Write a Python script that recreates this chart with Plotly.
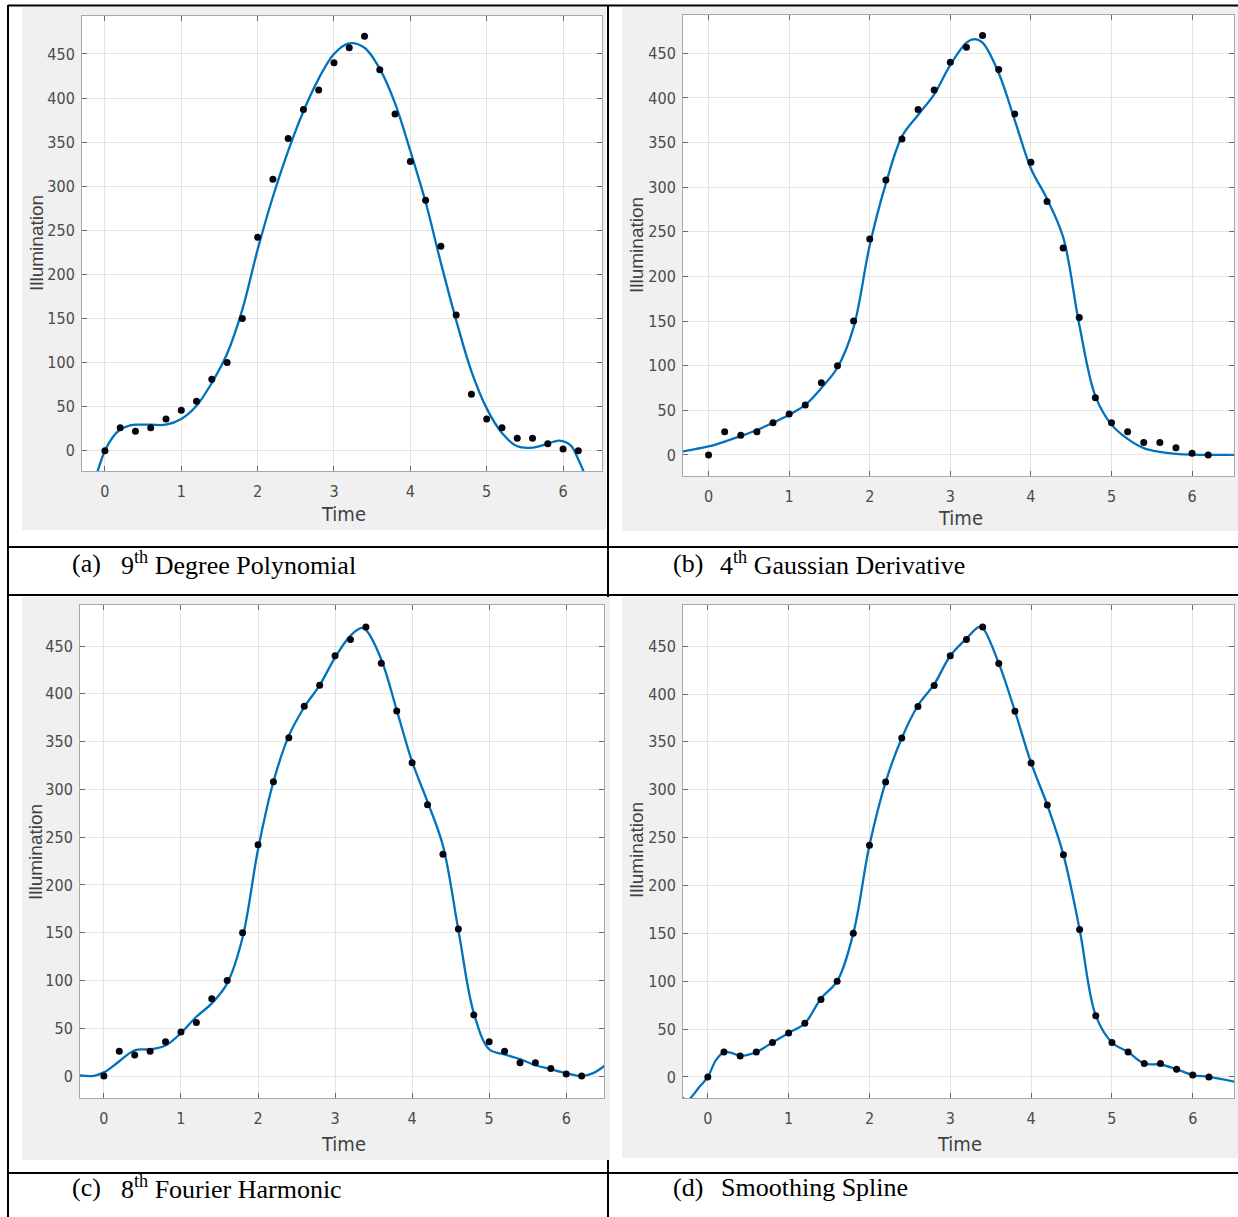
import plotly.graph_objects as go

# ---------------- data ----------------
time = [0.0, 0.2, 0.4, 0.6, 0.8, 1.0, 1.2, 1.4, 1.6, 1.8, 2.0, 2.2, 2.4, 2.6, 2.8, 3.0,
        3.2, 3.4, 3.6, 3.8, 4.0, 4.2, 4.4, 4.6, 4.8, 5.0, 5.2, 5.4, 5.6, 5.8, 6.0, 6.2]
illumination = [0, 26, 22, 26, 36, 46, 56, 81, 100, 150, 242, 308, 354, 387, 409, 440,
                457, 470, 432, 382, 328, 284, 232, 154, 64, 36, 26, 14, 14, 8, 2, 0]

# fitted curves
poly_t = [-0.12, 0.0, 0.1, 0.2, 0.3, 0.4, 0.6, 0.8, 1.0, 1.2, 1.4, 1.6, 1.8, 2.0, 2.2, 2.4,
          2.6, 2.8, 3.0, 3.2, 3.4, 3.6, 3.8, 4.0, 4.2, 4.4, 4.6, 4.8, 5.0, 5.2, 5.4, 5.6,
          5.8, 5.95, 6.1, 6.2, 6.3]
poly_y = [-30, 0, 15, 24, 28, 29.5, 29.5, 29.5, 36, 51, 77, 110, 160, 228, 288, 340,
          385, 422, 450, 462, 457, 433, 394, 340, 282, 213, 148, 90, 48, 20, 5, 3.5,
          8, 11.5, 6, -10, -30]

gauss_t = [-0.32, 0.0, 0.2, 0.4, 0.6, 0.8, 1.0, 1.2, 1.4, 1.6, 1.8, 2.0, 2.2, 2.4, 2.6,
           2.8, 3.0, 3.2, 3.3, 3.4, 3.6, 3.8, 4.0, 4.2, 4.4, 4.6, 4.8, 5.0, 5.2, 5.4,
           5.6, 5.8, 6.0, 6.52]
gauss_y = [4, 9.5, 15, 21, 28, 36, 45, 56, 75, 98, 143, 235, 304, 357, 381,
           404, 437, 462, 466, 462, 428, 375, 321, 287, 244, 146, 66, 34, 18, 7.7,
           3.4, 1.3, 0.4, 0]

fourier_t = [-0.32, -0.15, 0.0, 0.2, 0.4, 0.6, 0.8, 1.0, 1.2, 1.4, 1.6, 1.8, 2.0, 2.2,
             2.4, 2.6, 2.8, 3.0, 3.2, 3.35, 3.4, 3.6, 3.8, 4.0, 4.2, 4.4, 4.6, 4.8, 5.0,
             5.2, 5.4, 5.6, 5.8, 6.0, 6.2, 6.35, 6.52]
fourier_y = [0.8, 0, 3.8, 15.5, 27, 28, 32, 45, 62, 76, 97, 145, 237, 308,
             356, 386, 409, 438, 461, 469, 467, 436, 383, 329, 287, 241, 153, 66, 28,
             22.6, 17.6, 11.3, 7.1, 2.9, 0, 3, 12]

spline_t = [-0.32, -0.25, -0.1, 0.0, 0.1, 0.2, 0.3, 0.4, 0.6, 0.8, 1.0, 1.2, 1.4, 1.6,
            1.8, 2.0, 2.2, 2.4, 2.6, 2.8, 3.0, 3.2, 3.35, 3.4, 3.6, 3.8, 4.0, 4.2, 4.4,
            4.6, 4.8, 5.0, 5.2, 5.4, 5.6, 5.8, 6.0, 6.2, 6.52]
spline_y = [-21, -24, -10, 0, 17.5, 26, 25, 22, 26, 36, 46, 56, 82, 100,
            150, 242, 308, 354, 388, 410, 440, 458, 470, 469, 432, 382, 328, 284, 232,
            154, 64, 36, 26, 14, 13, 8, 2, 0, -5]

x_ticks = [0, 1, 2, 3, 4, 5, 6]
y_ticks = [0, 50, 100, 150, 200, 250, 300, 350, 400, 450]
captions = [("(a)", "9<sup>th</sup> Degree Polynomial"),
            ("(b)", "4<sup>th</sup> Gaussian Derivative"),
            ("(c)", "8<sup>th</sup> Fourier Harmonic"),
            ("(d)", "Smoothing Spline")]
x_title = "Time"
y_title = "Illumination"

# ---------------- layout helpers ----------------
W, H = 1238, 1217
def px(x):
    return x / W
def py(y):
    return 1 - y / H

NARROW = "Liberation Sans Narrow, DejaVu Sans Condensed, Arial Narrow, sans-serif"
LINE_BLUE = "#0072BD"

panels = [
    dict(area=(82, 602, 16, 471), gray=(22, 606, 7, 530), xr=[-0.30, 6.51], yr=[-23, 493],
         ct=poly_t, cy=poly_y, time_c=(343, 514), ill_c=(37, 243), cap=(70, 119, 563)),
    dict(area=(683, 1234, 15, 476), gray=(622, 1238, 7, 531), xr=[-0.317, 6.52], yr=[-23.6, 493],
         ct=gauss_t, cy=gauss_y, time_c=(960, 518), ill_c=(636, 245), cap=(671, 718, 563)),
    dict(area=(80, 604, 605, 1098), gray=(22, 610, 597, 1160), xr=[-0.31, 6.49], yr=[-23, 493],
         ct=fourier_t, cy=fourier_y, time_c=(343, 1144), ill_c=(35, 852), cap=(70, 119, 1187)),
    dict(area=(683, 1234, 605, 1098), gray=(622, 1238, 597, 1158), xr=[-0.307, 6.51], yr=[-22, 493],
         ct=spline_t, cy=spline_y, time_c=(959, 1144), ill_c=(636, 850), cap=(671, 719, 1187)),
]

fig = go.Figure()
shapes = []
annotations = []

black = dict(color="black", width=2)
for (x0, y0, x1, y1) in [(8, 5.5, 1238, 5.5), (8, 547, 1238, 547), (8, 595, 1238, 595),
                         (8, 1173, 1238, 1173), (8, 5, 8, 1217), (608, 5, 608, 1217)]:
    shapes.append(dict(type="line", xref="paper", yref="paper", x0=px(x0), y0=py(y0),
                       x1=px(x1), y1=py(y1), line=black, layer="below"))

for i, p in enumerate(panels):
    n = "" if i == 0 else str(i + 1)
    xa, ya = "x" + n, "y" + n
    l, r, t, b = p["area"]
    gl, gr, gt, gb = p["gray"]
    shapes.append(dict(type="rect", xref="paper", yref="paper", x0=px(gl), x1=px(gr),
                       y0=py(gb), y1=py(gt), fillcolor="#f0f0f0", line=dict(width=0),
                       layer="below"))
    shapes.append(dict(type="rect", xref=xa + " domain", yref=ya + " domain", x0=0, x1=1,
                       y0=0, y1=1, fillcolor="white", line=dict(width=0), layer="below"))

    fig.add_trace(go.Scatter(x=p["ct"], y=p["cy"], mode="lines",
                             line=dict(color=LINE_BLUE, width=2.3, shape="spline", smoothing=1.0),
                             xaxis=xa, yaxis=ya, showlegend=False, hoverinfo="skip"))
    fig.add_trace(go.Scatter(x=time, y=illumination, mode="markers",
                             marker=dict(color="#05050f", size=7),
                             xaxis=xa, yaxis=ya, showlegend=False, hoverinfo="skip",
                             cliponaxis=True))

    common = dict(showgrid=True, gridcolor="#e4e4e4", gridwidth=1, showline=True,
                  linecolor="#a8a8a8", linewidth=1, mirror="ticks", ticks="inside",
                  ticklen=5, tickcolor="#6a6a6a", zeroline=False, fixedrange=True,
                  tickfont=dict(family=NARROW, size=16, color="#4a4a4a"))
    fig.layout["xaxis" + n] = dict(common, domain=[px(l), px(r)], range=p["xr"],
                                   tickvals=x_ticks, anchor=ya, ticklabelstandoff=6)
    fig.layout["yaxis" + n] = dict(common, domain=[py(b), py(t)], range=p["yr"],
                                   tickvals=y_ticks, anchor=xa, ticklabelstandoff=3)

    tx, ty = p["time_c"]
    annotations.append(dict(text=x_title, xref="paper", yref="paper", x=px(tx), y=py(ty),
                            xanchor="center", yanchor="middle", showarrow=False,
                            font=dict(family=NARROW, size=20, color="#404040")))
    ix, iy = p["ill_c"]
    annotations.append(dict(text=y_title, xref="paper", yref="paper", x=px(ix), y=py(iy),
                            xanchor="center", yanchor="middle", showarrow=False, textangle=-90,
                            font=dict(family="Liberation Sans, Arial, sans-serif", size=19,
                                      color="#404040")))
    cx1, cx2, cy_ = p["cap"]
    lab, txt = captions[i]
    for cx, s in [(cx1, lab), (cx2, txt)]:
        annotations.append(dict(text=s, xref="paper", yref="paper", x=px(cx), y=py(cy_),
                                xanchor="left", yanchor="middle", showarrow=False,
                                font=dict(family="Liberation Serif, Times New Roman, serif",
                                          size=26, color="black")))

fig.update_layout(width=W, height=H, margin=dict(l=0, r=0, t=0, b=0),
                  paper_bgcolor="white", plot_bgcolor="white", showlegend=False,
                  shapes=shapes, annotations=annotations)

fig.write_html("out.html", config={"displayModeBar": False},
               post_script="document.body.style.margin='0';document.body.style.overflow='hidden';")
